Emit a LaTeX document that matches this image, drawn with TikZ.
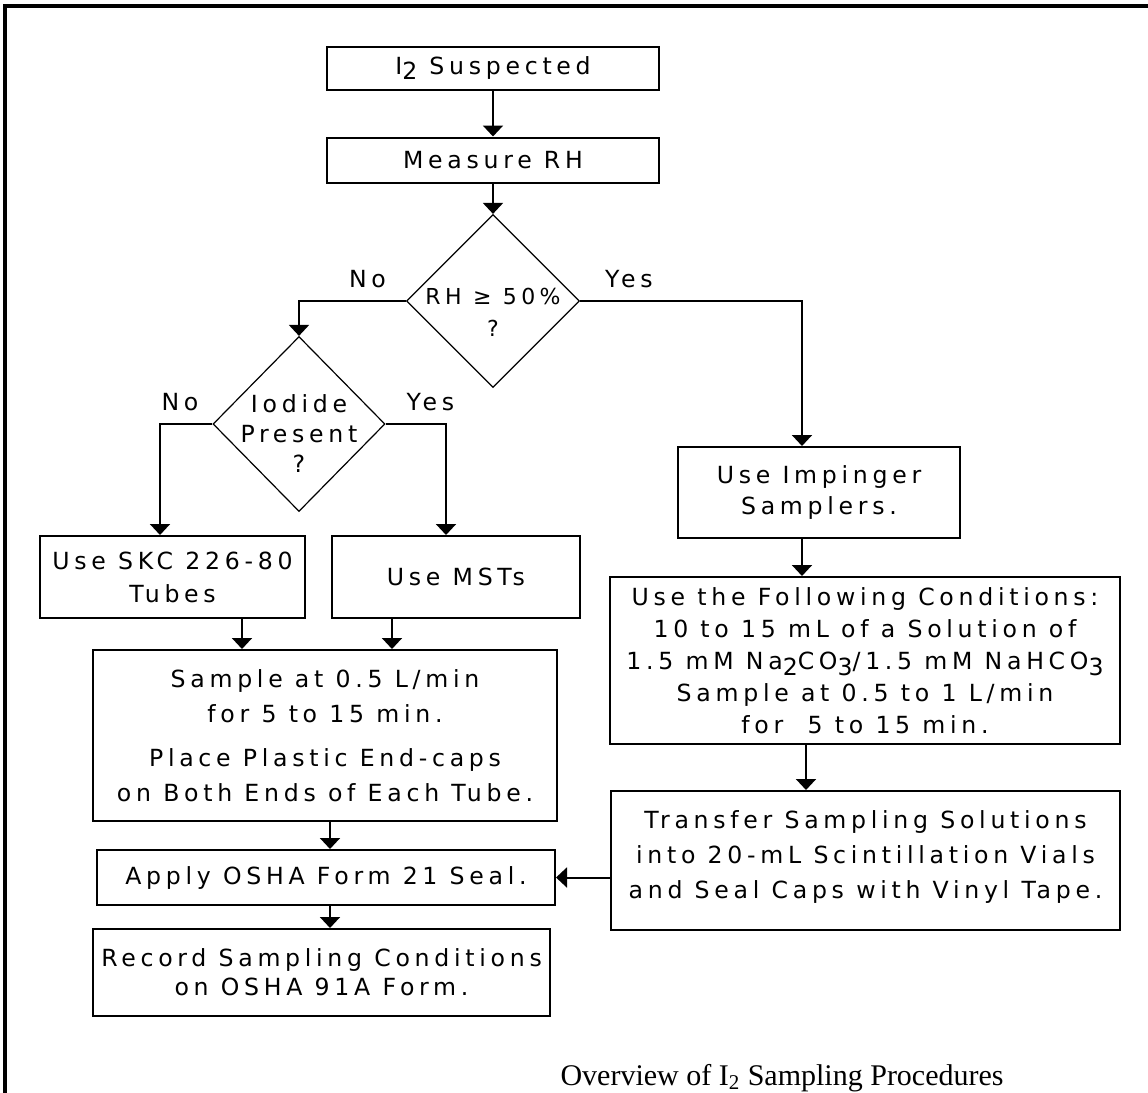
\documentclass[tikz,border=0pt]{standalone}
\usepackage{fontspec}
\setmainfont{Liberation Serif}
\newfontfamily\plotfont[LetterSpace=20]{DejaVu Sans}
\usetikzlibrary{arrows.meta, shapes.geometric}
\newcommand{\lowsub}[1]{\raisebox{-0.45ex}{#1}}
\newcommand{\boxfont}[1]{\plotfont\fontsize{11.8}{#1}\selectfont}
\tikzset{
    stepBox/.style={
        rectangle,
        draw=black,
        line width=1pt,
        inner sep=0pt,
        align=center,
        font=\boxfont{17pt}
    },
    askNode/.style={
        diamond,
        draw=black,
        line width=0.6pt,
        inner sep=-8pt,
        align=center,
        font=\boxfont{15pt}
    },
    branchLabel/.style={
        inner sep=0pt,
        font=\boxfont{15pt}
    },
    flow/.style={
        line width=1pt,
        -{Triangle[width=10pt, length=5.5pt]}
    }
}

\begin{document}
\begin{tikzpicture}[x=0.5pt, y=-0.5pt]
            \useasboundingbox (0,0) rectangle (1148,1093);

            % Frame
            \draw[line width=2pt] (5,1093) -- (5,6) -- (1148,6);

            % Top of the chart
            \node[stepBox, minimum width=166pt, minimum height=21.5pt] (suspect) at (493,68) {I\lowsub{2} Suspected};
            \node[stepBox, minimum width=166pt, minimum height=22.5pt] (measure) at (493,160) {Measure RH};
            \node[askNode, minimum width=86.5pt, minimum height=86.5pt, font={\plotfont\fontsize{11}{16}\selectfont}] (rhTest) at (493,301) {\mbox{}\\[3pt]RH ≥ 50\%\\?};

            % Low RH branch
            \node[askNode, minimum width=86pt, minimum height=87.5pt] (iodide) at (299,424) {\mbox{}\\[3.6pt]Iodide\\Present\\?};
            \node[stepBox, minimum width=132.5pt, minimum height=41pt, font=\boxfont{16.5pt}] (skcTube) at (172.5,577) {Use SKC 226-80\\Tubes};
            \node[stepBox, minimum width=124pt, minimum height=41pt] (mstTube) at (456,577) {Use MSTs};
            \node[stepBox, minimum width=232pt, minimum height=85.5pt, font=\boxfont{17.5pt}] (sampleTube) at (325,735.5) {Sample at 0.5 L/min\\for 5 to 15 min.\\[4.5pt]Place Plastic End-caps\\on Both Ends of Each Tube.};
            \node[stepBox, minimum width=229pt, minimum height=27.5pt] (sealForm) at (326,877.5) {Apply OSHA Form 21 Seal.};
            \node[stepBox, minimum width=228.5pt, minimum height=43.5pt, font=\boxfont{14.5pt}] (recordForm) at (321.5,972.5) {Record Sampling Conditions\\on OSHA 91A Form.};

            % High RH branch
            \node[stepBox, minimum width=141pt, minimum height=45.5pt, font=\boxfont{15.5pt}] (impinger) at (819,492.5) {Use Impinger\\Samplers.};
            \node[stepBox, minimum width=255pt, minimum height=83.5pt, font=\boxfont{16pt}] (conditions) at (865,660.5) {Use the Following Conditions:\\10 to 15 mL of a Solution of\\1.5 mM Na\lowsub{2}CO\lowsub{3}/1.5 mM NaHCO\lowsub{3}\\Sample at 0.5 to 1 L/min\\for\ \ 5 to 15 min.};
            \node[stepBox, minimum width=254.5pt, minimum height=69.5pt, font=\boxfont{17.5pt}] (transfer) at (865.5,860.5) {Transfer Sampling Solutions\\into 20-mL Scintillation Vials\\and Seal Caps with Vinyl Tape.\\[-12pt]\mbox{}};

            % Connectors
            \draw[flow] (suspect) -- (measure);
            \draw[flow] (measure) -- (rhTest);
            \draw[flow] (rhTest.west) -| (iodide.north) node[branchLabel, pos=0.18, above=6pt] {No};
            \draw[flow] (rhTest.east) -| ([xshift=-8.5pt]impinger.north) node[branchLabel, pos=0.11, above=6pt] {Yes};
            \draw[flow] (iodide.west) -| ([xshift=-6.25pt]skcTube.north) node[branchLabel, pos=0.31, above=6pt] {No};
            \draw[flow] (iodide.east) -| ([xshift=-5pt]mstTube.north) node[branchLabel, pos=0.37, above=6pt] {Yes};
            \draw[flow] ([xshift=34.75pt]skcTube.south) -- ([xshift=34.75pt]skcTube.south |- sampleTube.north);
            \draw[flow] ([xshift=-32pt]mstTube.south) -- ([xshift=-32pt]mstTube.south |- sampleTube.north);
            \draw[flow] ([xshift=2.5pt]sampleTube.south) -- ([xshift=2.5pt]sampleTube.south |- sealForm.north);
            \draw[flow] ([xshift=2pt]sealForm.south) -- ([xshift=2pt]sealForm.south |- recordForm.north);
            \draw[flow] ([xshift=-8.5pt]impinger.south) -- ([xshift=-8.5pt]impinger.south |- conditions.north);
            \draw[flow] ([xshift=-6.5pt]impinger.south |- conditions.south) -- ([xshift=-6.5pt]impinger.south |- transfer.north);
            \draw[flow] (sealForm.east -| transfer.west) -- (sealForm.east);

            % Caption
            \node[anchor=base east, inner sep=0pt, font=\fontsize{15}{18}\selectfont] (caption) at (1004,1085) {Overview of I\textsubscript{2} Sampling Procedures};
        \end{tikzpicture}
\end{document}
